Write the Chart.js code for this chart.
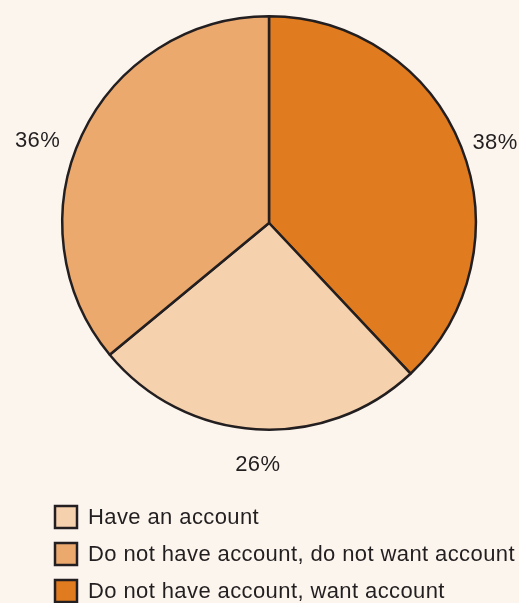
<!DOCTYPE html>
<html>
<head>
<meta charset="utf-8">
<script src="https://cdn.jsdelivr.net/npm/chart.js@4/dist/chart.umd.min.js"></script>
<style>
  html, body { margin: 0; padding: 0; background: #fcf5ee; }
  #wrap { width: 519px; height: 603px; position: relative; }
</style>
</head>
<body>
<div id="wrap"><canvas id="c" width="519" height="603"></canvas></div>
<script>
// Pie slices, clockwise from 12 o'clock
const sliceLabels = ["Do not have account, want account", "Have an account", "Do not have account, do not want account"];
const sliceValues = [38, 26, 36];
const sliceColors = ["#e07b1f", "#f6d1ad", "#eca96e"];

// Legend order as shown in the picture
const legendLabels = ["Have an account", "Do not have account, do not want account", "Do not have account, want account"];
const legendColors = ["#f6d1ad", "#eca96e", "#e07b1f"];

const FONT = "Liberation Sans, Arial, Helvetica, sans-serif";
const TEXT = "#231f20";

const overlay = {
  id: 'overlay',
  beforeDraw(chart) {
    const ctx = chart.ctx;
    ctx.save();
    ctx.fillStyle = '#fcf5ee';
    ctx.fillRect(0, 0, chart.width, chart.height);
    ctx.restore();
  },
  afterDraw(chart) {
    const ctx = chart.ctx;
    const meta = chart.getDatasetMeta(0);
    ctx.save();
    ctx.font = "22px " + FONT;
    try { ctx.letterSpacing = '0.4px'; } catch (e) {}
    ctx.fillStyle = TEXT;
    meta.data.forEach((arc, i) => {
      const mid = (arc.startAngle + arc.endAngle) / 2;
      const cx = arc.x, cy = arc.y, r = arc.outerRadius;
      const dx = Math.cos(mid), dy = Math.sin(mid);
      const txt = sliceValues[i] + '%';
      ctx.textBaseline = 'middle';
      if (dy > 0.8) {
        ctx.textAlign = 'center';
        ctx.fillText(txt, cx + (r + 36) * dx + 4, cy + (r + 36) * dy);
      } else if (dx > 0) {
        ctx.textAlign = 'left';
        ctx.fillText(txt, cx + (r + 12) * dx, cy + (r + 12) * dy);
      } else {
        ctx.textAlign = 'right';
        ctx.fillText(txt, cx + (r + 24) * dx, cy + (r + 24) * dy + 16);
      }
    });
    // legend
    const x0 = 55, y0 = 517, step = 37, box = 22;
    legendLabels.forEach((lab, i) => {
      const y = y0 + i * step;
      ctx.fillStyle = legendColors[i];
      ctx.fillRect(x0, y - box / 2, box, box);
      ctx.lineWidth = 2.5;
      ctx.strokeStyle = TEXT;
      ctx.strokeRect(x0, y - box / 2, box, box);
      ctx.fillStyle = TEXT;
      ctx.textAlign = 'left'; ctx.textBaseline = 'middle';
      ctx.fillText(lab, 88, y + 1);
    });
    ctx.restore();
  }
};

new Chart(document.getElementById('c'), {
  type: 'pie',
  data: {
    labels: sliceLabels,
    datasets: [{
      data: sliceValues,
      backgroundColor: sliceColors,
      borderColor: TEXT,
      borderWidth: 2.5
    }]
  },
  options: {
    responsive: false,
    animation: false,
    layout: { padding: { left: 61, right: 42, top: 15, bottom: 172 } },
    plugins: { legend: { display: false }, tooltip: { enabled: false } }
  },
  plugins: [overlay]
});
</script>
</body>
</html>
